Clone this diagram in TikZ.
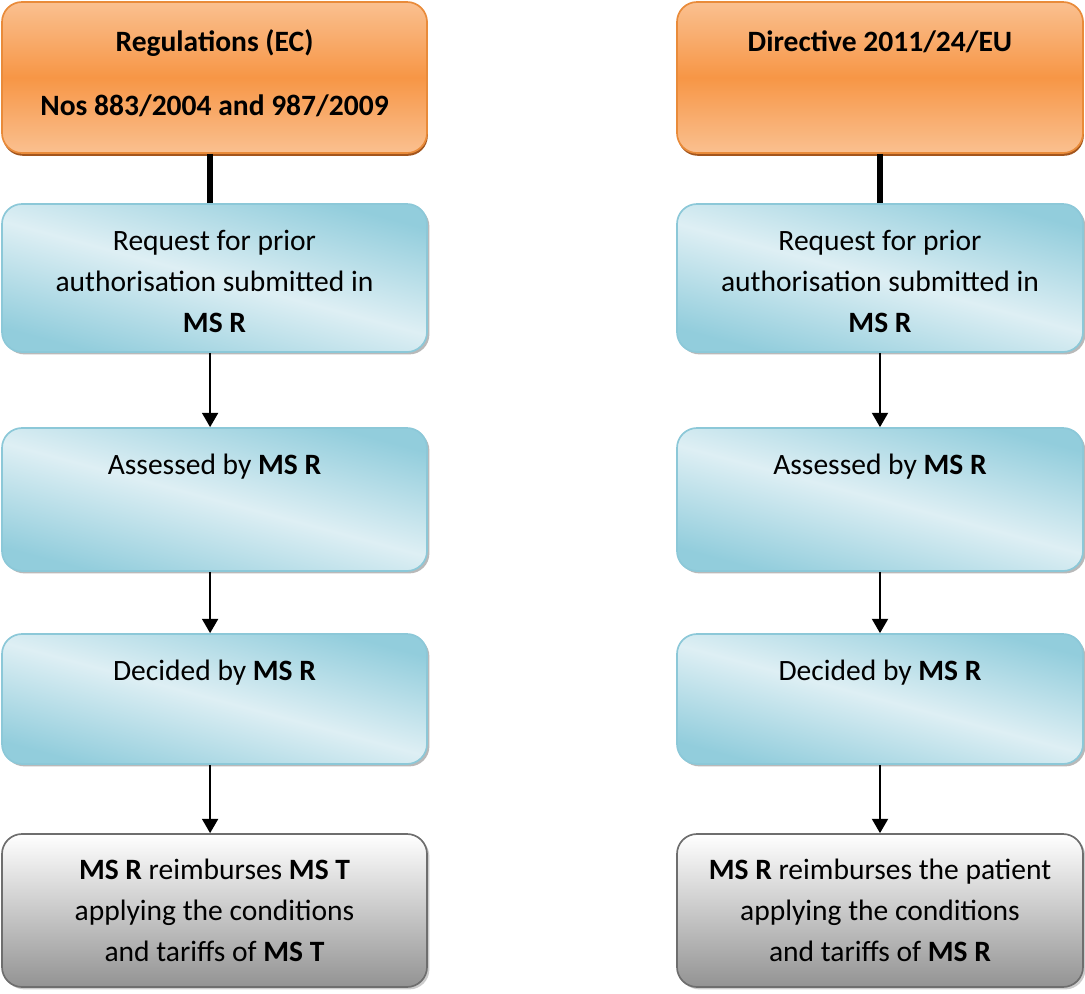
\documentclass[tikz,border=0pt]{standalone}
\usepackage{fontspec}
\setmainfont{Carlito}
\usetikzlibrary{positioning,arrows.meta,shadows}
\definecolor{orgdark}{HTML}{F79646}
\definecolor{orglight}{HTML}{FAC090}
\definecolor{orgedge}{HTML}{E98B3A}
\definecolor{orgshade}{HTML}{A2551D}
\definecolor{bluedark}{HTML}{92CDDC}
\definecolor{bluelight}{HTML}{DEEFF4}
\definecolor{blueedge}{HTML}{8CC8D8}
\definecolor{greyedge}{HTML}{6E6E6E}
\definecolor{greydark}{HTML}{939393}

\begin{document}
\begin{tikzpicture}[
    box/.style={rounded corners=0.5cm, line width=1.2pt, inner sep=0pt},
    leftcol/.style={minimum width=10.625cm},
    rightcol/.style={minimum width=10.15cm},
    lawbox/.style={box, draw=orgedge, top color=orglight, bottom color=orglight, middle color=orgdark,
        drop shadow={shadow xshift=0.02cm, shadow yshift=-0.07cm, fill=orgshade, opacity=1}},
    stepbox/.style={box, draw=blueedge, top color=bluedark, bottom color=bluedark, middle color=bluelight,
        shading angle=-15, drop shadow={shadow xshift=0.06cm, shadow yshift=-0.06cm, fill=gray!55, opacity=1}},
    paybox/.style={box, draw=greyedge, top color=white, bottom color=greydark,
        drop shadow={shadow xshift=0.06cm, shadow yshift=-0.06cm, fill=gray!40, opacity=1}},
    lbl/.style={anchor=base, align=center, font=\fontsize{21}{29.2}\selectfont},
    joint/.style={line width=4.3pt},
    link/.style={line width=1.6pt, -{Triangle[width=0.4cm,length=0.36cm]}}
]
    \useasboundingbox (0,0) rectangle (27.125,-24.85);

    % left column
    \node[lawbox, leftcol, minimum height=3.775cm] (regL) at (5.3625,-1.9375) {};
    \node[stepbox, leftcol, minimum height=3.7cm] (reqL) at (5.3625,-6.95) {};
    \node[stepbox, leftcol, minimum height=3.575cm] (assL) at (5.3625,-12.4875) {};
    \node[stepbox, leftcol, minimum height=3.25cm] (decL) at (5.3625,-17.475) {};
    \node[paybox, leftcol, minimum height=3.825cm] (payL) at (5.3625,-22.7625) {};

    % right column
    \node[lawbox, rightcol, minimum height=3.775cm] (regR) at (22,-1.9375) {};
    \node[stepbox, rightcol, minimum height=3.7cm] (reqR) at (22,-6.95) {};
    \node[stepbox, rightcol, minimum height=3.575cm] (assR) at (22,-12.4875) {};
    \node[stepbox, rightcol, minimum height=3.25cm] (decR) at (22,-17.475) {};
    \node[paybox, rightcol, minimum height=3.825cm] (payR) at (22,-22.7625) {};

    % texts (base = last line)
    \node[lbl, font=\fontsize{21}{29.2}\selectfont\bfseries] (regLtxt) at ([yshift=-2.85cm]regL.north)
        {Regulations (EC)\\[0.575cm]Nos 883/2004 and 987/2009};
    \node[lbl] (reqLtxt) at ([yshift=-3.24cm]reqL.north)
        {Request for prior\\authorisation submitted in\\\textbf{MS R}};
    \node[lbl] (assLtxt) at ([yshift=-1.19cm]assL.north) {Assessed by \textbf{MS R}};
    \node[lbl] (decLtxt) at ([yshift=-1.19cm]decL.north) {Decided by \textbf{MS R}};
    \node[lbl] (payLtxt) at ([yshift=-3.2cm]payL.north)
        {\textbf{MS R} reimburses \textbf{MS T}\\applying the conditions\\and tariffs of \textbf{MS T}};

    \node[lbl, font=\fontsize{21}{29.2}\selectfont\bfseries] (regRtxt) at ([yshift=-1.25cm]regR.north)
        {Directive 2011/24/EU};
    \node[lbl] (reqRtxt) at ([yshift=-3.24cm]reqR.north)
        {Request for prior\\authorisation submitted in\\\textbf{MS R}};
    \node[lbl] (assRtxt) at ([yshift=-1.19cm]assR.north) {Assessed by \textbf{MS R}};
    \node[lbl] (decRtxt) at ([yshift=-1.19cm]decR.north) {Decided by \textbf{MS R}};
    \node[lbl] (payRtxt) at ([yshift=-3.2cm]payR.north)
        {\textbf{MS R} reimburses the patient\\applying the conditions\\and tariffs of \textbf{MS R}};

    % connectors
    \draw[joint] ([xshift=-0.11cm]regL.south) -- ([xshift=-0.11cm]reqL.north);
    \draw[link] ([xshift=-0.11cm]reqL.south) -- ([xshift=-0.11cm]assL.north);
    \draw[link] ([xshift=-0.11cm]assL.south) -- ([xshift=-0.11cm]decL.north);
    \draw[link] ([xshift=-0.11cm]decL.south) -- ([xshift=-0.11cm]payL.north);
    \draw[joint] (regR) -- (reqR);
    \draw[link] (reqR) -- (assR);
    \draw[link] (assR) -- (decR);
    \draw[link] (decR) -- (payR);
\end{tikzpicture}
\end{document}
